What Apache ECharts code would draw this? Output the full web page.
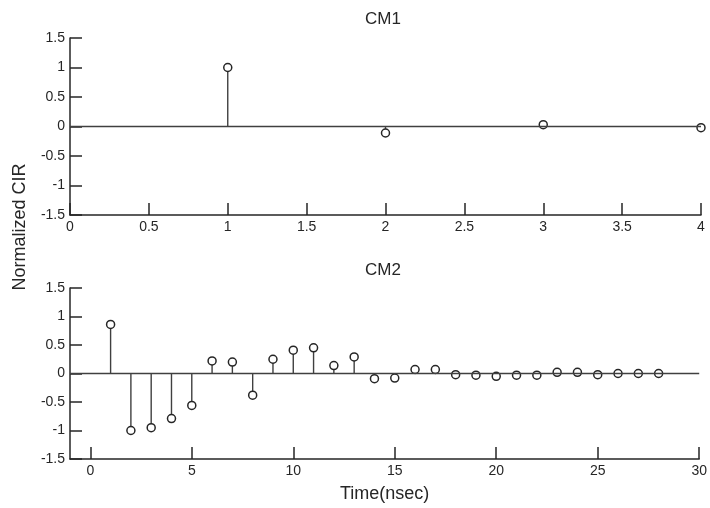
<!DOCTYPE html>
<html>
<head>
<meta charset="utf-8">
<title>Normalized CIR</title>
<script src="https://cdn.jsdelivr.net/npm/echarts@6/dist/echarts.min.js"></script>
<style>
  html, body { margin: 0; padding: 0; background: #fff; }
  #chart { width: 710px; height: 508px; }
</style>
</head>
<body>
<div id="chart"></div>
<script>
// Channel impulse response taps (time in ns, normalized amplitude)
const cm1Time = [1, 2, 3, 4];
const cm1Value = [1.0, -0.11, 0.03, -0.02];

const cm2Time = [1, 2, 3, 4, 5, 6, 7, 8, 9, 10, 11, 12, 13, 14,
                 15, 16, 17, 18, 19, 20, 21, 22, 23, 24, 25, 26, 27, 28];
const cm2Value = [0.86, -1.0, -0.95, -0.79, -0.56, 0.22, 0.2, -0.38, 0.25, 0.41,
                  0.45, 0.14, 0.29, -0.09, -0.08, 0.07, 0.07, -0.02, -0.03, -0.05,
                  -0.03, -0.03, 0.02, 0.02, -0.02, 0.0, 0.0, 0.0];

const yTicks = [-1.5, -1, -0.5, 0, 0.5, 1, 1.5];
const cm1XTicks = [0, 0.5, 1, 1.5, 2, 2.5, 3, 3.5, 4];
const cm2XTicks = [0, 5, 10, 15, 20, 25, 30];

const FONT = 'Arial, "Liberation Sans", sans-serif';
const INK = '#262626';
const STEM = '#404040';

function stemSeries(times, values, gridIdx) {
  return {
    type: 'custom',
    xAxisIndex: gridIdx,
    yAxisIndex: gridIdx,
    data: times.map((t, i) => [t, values[i]]),
    renderItem: function (params, api) {
      const top = api.coord([api.value(0), api.value(1)]);
      const base = api.coord([api.value(0), 0]);
      return {
        type: 'group',
        children: [
          {
            type: 'line',
            shape: { x1: base[0], y1: base[1], x2: top[0], y2: top[1] },
            style: { stroke: STEM, lineWidth: 1.4 }
          },
          {
            type: 'circle',
            shape: { cx: top[0], cy: top[1], r: 4 },
            style: { fill: '#fff', stroke: INK, lineWidth: 1.5 }
          }
        ]
      };
    },
    markLine: {
      silent: true,
      symbol: 'none',
      label: { show: false },
      lineStyle: { color: STEM, width: 1.4, type: 'solid' },
      data: [{ yAxis: 0 }]
    },
    z: 3
  };
}

function yAxisCfg(gridIdx) {
  return {
    type: 'value',
    gridIndex: gridIdx,
    min: -1.5,
    max: 1.5,
    interval: 0.5,
    axisLine: { show: true, onZero: false, lineStyle: { color: INK, width: 1.5 } },
    axisTick: { show: true, inside: true, length: 12, customValues: yTicks, lineStyle: { color: INK, width: 1.5 } },
    axisLabel: { color: INK, fontFamily: FONT, fontSize: 14, margin: 5, customValues: yTicks },
    splitLine: { show: false }
  };
}

const chart = echarts.init(document.getElementById('chart'), null, { renderer: 'canvas' });

chart.setOption({
  backgroundColor: '#fff',
  animation: false,
  grid: [
    { left: 70, right: 9, top: 38, height: 177 },
    { left: 70, right: 9, top: 288, height: 171 }
  ],
  xAxis: [
    {
      type: 'value',
      gridIndex: 0,
      min: 0,
      max: 4,
      interval: 0.5,
      axisLine: { show: true, onZero: false, lineStyle: { color: INK, width: 1.5 } },
      axisTick: { show: true, inside: true, length: 12, customValues: cm1XTicks, lineStyle: { color: INK, width: 1.5 } },
      axisLabel: { color: INK, fontFamily: FONT, fontSize: 14, margin: 5, customValues: cm1XTicks },
      splitLine: { show: false }
    },
    {
      type: 'value',
      gridIndex: 1,
      min: -1,
      max: 30,
      name: 'Time(nsec)',
      nameLocation: 'middle',
      nameGap: 26,
      nameTextStyle: { color: INK, fontFamily: FONT, fontSize: 18 },
      axisLine: { show: true, onZero: false, lineStyle: { color: INK, width: 1.5 } },
      axisTick: { show: true, inside: true, length: 12, customValues: cm2XTicks, lineStyle: { color: INK, width: 1.5 } },
      axisLabel: { color: INK, fontFamily: FONT, fontSize: 14, margin: 5, customValues: cm2XTicks },
      splitLine: { show: false }
    }
  ],
  yAxis: [yAxisCfg(0), yAxisCfg(1)],
  graphic: [
    {
      type: 'text',
      x: 383, y: 19,
      style: { text: 'CM1', fill: INK, font: '17px ' + FONT, align: 'center', verticalAlign: 'middle' }
    },
    {
      type: 'text',
      x: 383, y: 270,
      style: { text: 'CM2', fill: INK, font: '17px ' + FONT, align: 'center', verticalAlign: 'middle' }
    },
    {
      type: 'text',
      x: 20, y: 227,
      rotation: Math.PI / 2,
      style: {
        text: 'Normalized CIR',
        fill: INK,
        font: '18px ' + FONT,
        align: 'center',
        verticalAlign: 'middle'
      }
    }
  ],
  series: [
    stemSeries(cm1Time, cm1Value, 0),
    stemSeries(cm2Time, cm2Value, 1)
  ]
});
</script>
</body>
</html>
